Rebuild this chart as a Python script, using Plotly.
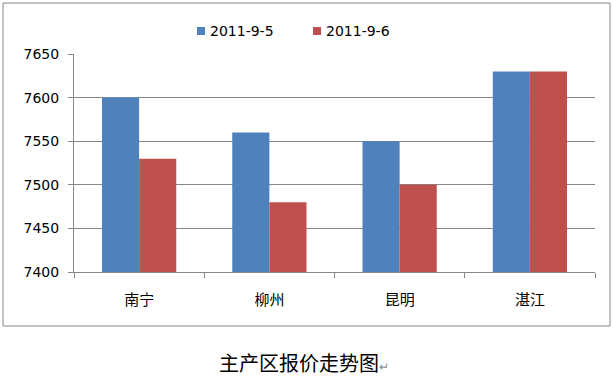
import plotly.graph_objects as go

categories = ["南宁", "柳州", "昆明", "湛江"]
series_names = ["2011-9-5", "2011-9-6"]
values_0905 = [7600, 7560, 7550, 7630]
values_0906 = [7530, 7480, 7500, 7630]
colors = ["#4F81BD", "#C0504D"]
y_ticks = [7400, 7450, 7500, 7550, 7600, 7650]
caption = "主产区报价走势图"

W, H = 613, 376
L, R, T, B = 74, 18, 54, 104
pw, ph = W - L - R, H - T - B

def px_x(x):
    return (x - L) / pw

def px_y(y):
    return (H - B - y) / ph

fig = go.Figure()
for name, vals, col in zip(series_names, [values_0905, values_0906], colors):
    fig.add_trace(go.Bar(x=categories, y=vals, name=name, marker_color=col,
                         marker_line_width=0))

fig.update_layout(
    width=W, height=H,
    margin=dict(l=L, r=R, t=T, b=B),
    paper_bgcolor="white", plot_bgcolor="white",
    barmode="group", bargap=0.43, bargroupgap=0,
    font=dict(family="DejaVu Sans, Verdana, sans-serif", size=14, color="#000000"),
    showlegend=False,
    xaxis=dict(showgrid=False, showline=True, linecolor="#868686", linewidth=1,
               ticks="outside", tickson="boundaries", ticklen=5, tickcolor="#868686",
               tickfont=dict(family="Noto Sans CJK SC", size=15, color="#000000"),
               ticklabelstandoff=14),
    yaxis=dict(range=[7400, 7650], tickvals=y_ticks, showgrid=True, gridcolor="#868686",
               gridwidth=1, showline=True, linecolor="#868686", linewidth=1,
               ticks="outside", ticklen=5, tickcolor="#868686", zeroline=False,
               tickfont=dict(size=14, color="#000000"), ticklabelstandoff=6),
)

# chart border
fig.add_shape(type="rect", xref="paper", yref="paper",
              x0=px_x(3), x1=px_x(610), y0=px_y(326), y1=px_y(3),
              line=dict(color="#868686", width=1), fillcolor="rgba(0,0,0,0)", layer="below")

# legend (drawn manually to match the small square keys)
legend_sq_x = [197, 313]
for name, col, lx in zip(series_names, colors, legend_sq_x):
    fig.add_shape(type="rect", xref="paper", yref="paper",
                  x0=px_x(lx), x1=px_x(lx + 8), y0=px_y(35), y1=px_y(27),
                  line=dict(width=0), fillcolor=col)
    fig.add_annotation(text=name, xref="paper", yref="paper",
                       x=px_x(lx + 11), y=px_y(31), xanchor="left", yanchor="middle",
                       showarrow=False, font=dict(size=14, color="#000000"))

fig.add_annotation(text=caption + "<span style='font-size:12px;color:#888888'>↵</span>",
                   xref="paper", yref="paper", x=px_x(304), y=px_y(362),
                   xanchor="center", yanchor="middle", showarrow=False,
                   font=dict(family="Noto Sans CJK SC", size=20, color="#000000"))

fig.write_html("out.html", config={"displayModeBar": False},
               post_script="document.body.style.margin='0';document.body.style.overflow='hidden';")
